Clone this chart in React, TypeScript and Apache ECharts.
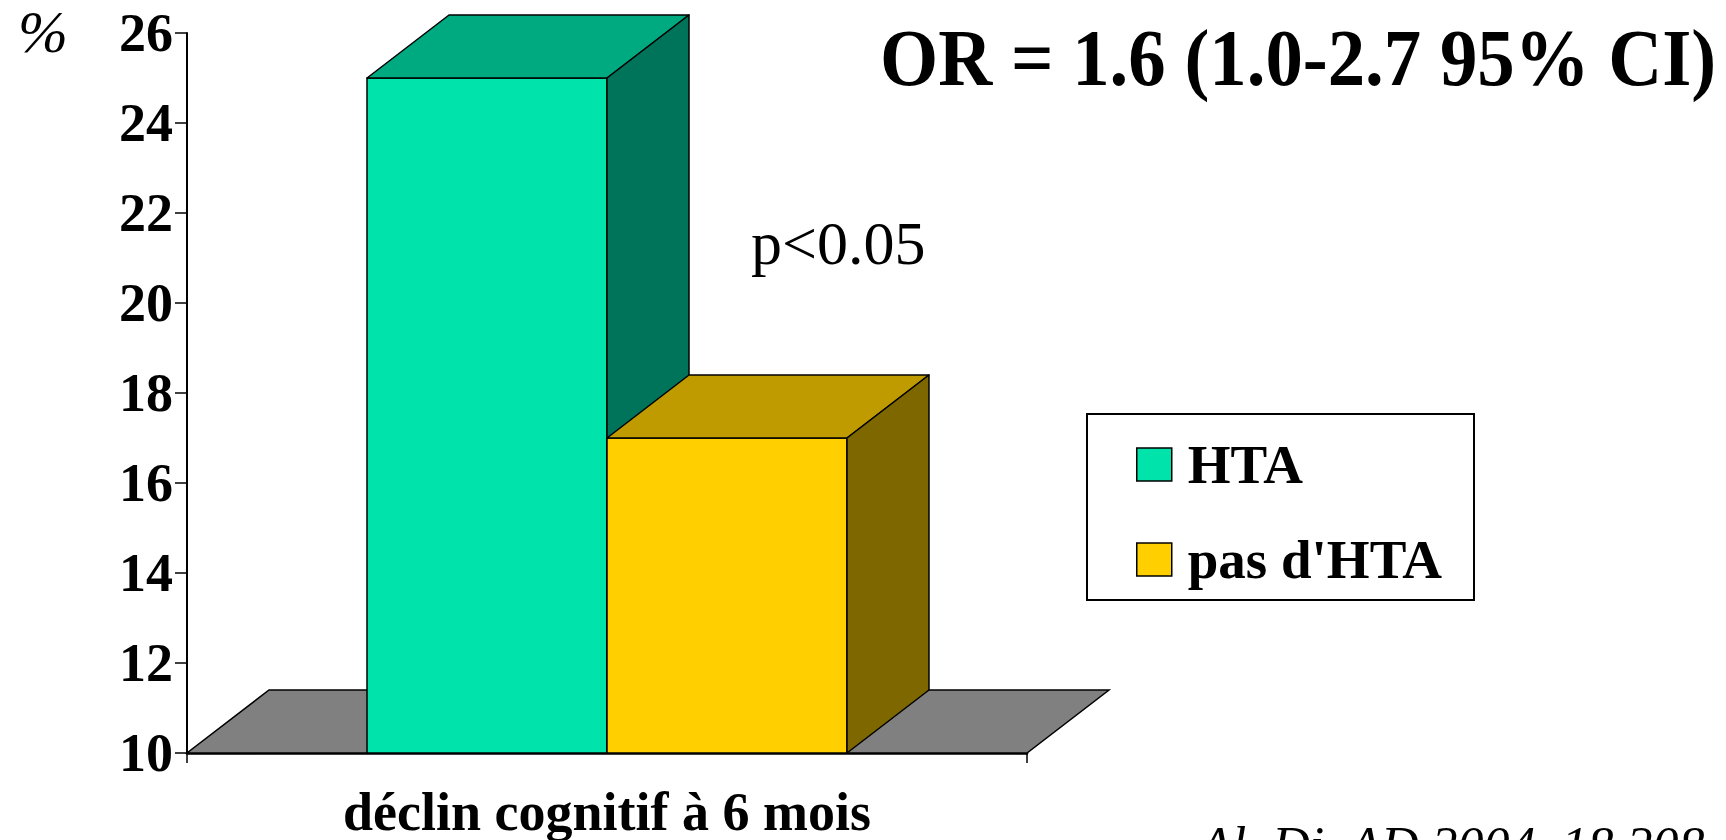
import React, { useEffect, useRef } from "react";
import * as echarts from "echarts";

// Chart content
const categories: string[] = ["déclin cognitif à 6 mois"];
const seriesNames: string[] = ["HTA", "pas d'HTA"];
const htaValues: number[] = [25];
const noHtaValues: number[] = [17];
const yMin = 10;
const yMax = 26;
const yInterval = 2;

const titleText = "OR = 1.6 (1.0-2.7 95% CI)";
const pValueText = "p<0.05";
const unitText = "%";
const sourceText = "Al. Di. AD 2004, 18 208";

// Face colours for the pseudo-3D boxes: front, top, side
const htaColors = { front: "#00E3AA", top: "#00AA80", side: "#00745A" };
const noHtaColors = { front: "#FFCF00", top: "#BF9B00", side: "#7F6700" };
const floorColor = "#808080";

// Depth offset of the 3D extrusion, in pixels
const DX = 82;
const DY = -63;
const BAR_FRAC = 0.2857;
const SERIF = "'Liberation Serif', 'Times New Roman', serif";

type Faces = { front: string; top: string; side: string };

function makeBarRenderer(slot: number, faces: Faces) {
  return (params: any, api: any) => {
    const cat = api.value(0);
    const v = api.value(1);
    const [cx, yTop] = api.coord([cat, v]);
    const yBase = api.coord([cat, yMin])[1];
    const band = api.size([1, 0])[0];
    const w = band * BAR_FRAC;
    const x0 = cx - w + slot * w;
    const x1 = x0 + w;
    const edge = { stroke: "#000", lineWidth: 1.5, lineJoin: "round" };
    return {
      type: "group",
      children: [
        {
          type: "rect",
          shape: { x: x0, y: yTop, width: w, height: yBase - yTop },
          style: { fill: faces.front, ...edge },
        },
        {
          type: "polygon",
          shape: {
            points: [
              [x0, yTop],
              [x1, yTop],
              [x1 + DX, yTop + DY],
              [x0 + DX, yTop + DY],
            ],
          },
          style: { fill: faces.top, ...edge },
        },
        {
          type: "polygon",
          shape: {
            points: [
              [x1, yTop],
              [x1 + DX, yTop + DY],
              [x1 + DX, yBase + DY],
              [x1, yBase],
            ],
          },
          style: { fill: faces.side, ...edge },
        },
      ],
    };
  };
}

function renderFloor(params: any, api: any) {
  const cs = params.coordSys;
  const y = api.coord([0, yMin])[1];
  const xl = cs.x;
  const xr = cs.x + cs.width;
  return {
    type: "polygon",
    shape: {
      points: [
        [xl, y],
        [xr, y],
        [xr + DX, y + DY],
        [xl + DX, y + DY],
      ],
    },
    style: { fill: floorColor, stroke: "#000", lineWidth: 1.5 },
  };
}

export default function App() {
  const ref = useRef<HTMLDivElement>(null);

  useEffect(() => {
    if (!ref.current) return;
    const chart = echarts.init(ref.current, undefined, { renderer: "svg" });

    const option: any = {
      animation: false,
      backgroundColor: "#ffffff",
      grid: { left: 187, right: 699, top: 33, bottom: 87 },
      xAxis: {
        type: "category",
        data: categories,
        boundaryGap: true,
        axisLine: { show: true, lineStyle: { color: "#000", width: 2.5 } },
        axisTick: { show: true, length: 10, lineStyle: { color: "#000", width: 1.5 } },
        axisLabel: {
          color: "#000",
          fontFamily: SERIF,
          fontWeight: "bold",
          fontSize: 54,
          margin: 32,
        },
        splitLine: { show: false },
      },
      yAxis: {
        type: "value",
        min: yMin,
        max: yMax,
        interval: yInterval,
        axisLine: { show: true, lineStyle: { color: "#000", width: 2 } },
        axisTick: { show: true, length: 12, lineStyle: { color: "#000", width: 1.5 } },
        axisLabel: {
          color: "#000",
          fontFamily: SERIF,
          fontWeight: "bold",
          fontSize: 54,
          margin: 14,
        },
        splitLine: { show: false },
      },
      legend: {
        data: seriesNames,
        orient: "vertical",
        left: 1136,
        top: 437,
        padding: 0,
        itemGap: 40,
        itemWidth: 35,
        itemHeight: 33,
        icon: "rect",
        itemStyle: { borderColor: "#000", borderWidth: 1.5 },
        textStyle: {
          color: "#000",
          fontFamily: SERIF,
          fontWeight: "bold",
          fontSize: 55,
          lineHeight: 52,
          padding: [0, 0, 0, 11],
        },
        selectedMode: false,
      },
      graphic: [
        {
          type: "rect",
          shape: { x: 1087, y: 414, width: 387, height: 186 },
          style: { fill: "none", stroke: "#000", lineWidth: 2 },
          z: 0,
        },
        {
          type: "text",
          x: 880,
          y: 58,
          scaleX: 0.935,
          style: {
            text: titleText,
            fill: "#000",
            fontFamily: SERIF,
            fontWeight: "bold",
            fontSize: 80,
            verticalAlign: "middle",
            align: "left",
          },
        },
        {
          type: "text",
          x: 751,
          y: 243,
          style: {
            text: pValueText,
            fill: "#000",
            fontFamily: SERIF,
            fontSize: 62,
            verticalAlign: "middle",
            align: "left",
          },
        },
        {
          type: "text",
          x: 18,
          y: 32,
          style: {
            text: unitText,
            fill: "#000",
            fontFamily: SERIF,
            fontStyle: "italic",
            fontSize: 60,
            verticalAlign: "middle",
            align: "left",
          },
        },
        {
          type: "text",
          x: 1200,
          y: 845,
          style: {
            text: sourceText,
            fill: "#000",
            fontFamily: SERIF,
            fontStyle: "italic",
            fontSize: 52,
            verticalAlign: "middle",
            align: "left",
          },
        },
      ],
      series: [
        {
          type: "custom",
          name: "floor",
          renderItem: renderFloor,
          data: [[0, yMin]],
          silent: true,
          z: 1,
        },
        {
          type: "custom",
          name: seriesNames[0],
          itemStyle: { color: htaColors.front },
          renderItem: makeBarRenderer(0, htaColors),
          data: htaValues.map((v, i) => [i, v]),
          encode: { x: 0, y: 1 },
          z: 2,
        },
        {
          type: "custom",
          name: seriesNames[1],
          itemStyle: { color: noHtaColors.front },
          renderItem: makeBarRenderer(1, noHtaColors),
          data: noHtaValues.map((v, i) => [i, v]),
          encode: { x: 0, y: 1 },
          z: 3,
        },
      ],
    };

    chart.setOption(option);
    return () => chart.dispose();
  }, []);

  return (
    <div
      ref={ref}
      style={{ position: "absolute", left: 0, top: 0, width: 1726, height: 840 }}
    />
  );
}
